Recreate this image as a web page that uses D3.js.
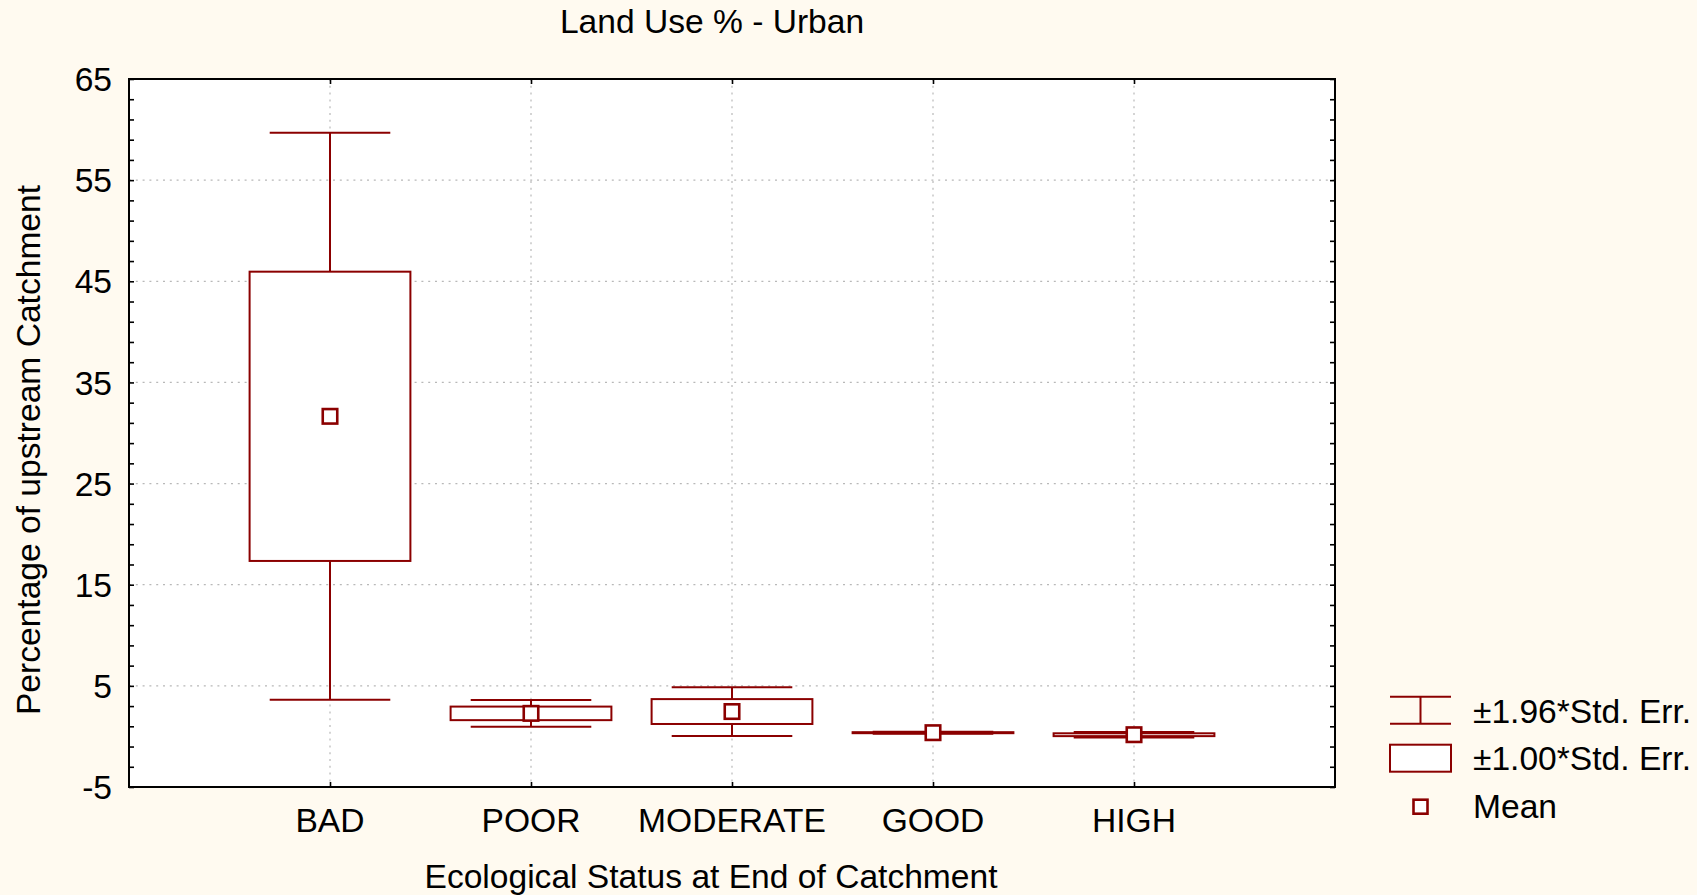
<!DOCTYPE html>
<html>
<head>
<meta charset="utf-8">
<script src="https://cdn.jsdelivr.net/npm/d3@7"></script>
<style>
  html, body { margin: 0; padding: 0; background: #fffaf0; }
  svg { display: block; }
  text { font-family: Arial, "Liberation Sans", sans-serif; fill: #000; }
</style>
</head>
<body>
<svg id="chart" width="1697" height="895"></svg>
<script>
// Ecological status classes along the x axis
const categories = ["BAD", "POOR", "MODERATE", "GOOD", "HIGH"];
// Mean urban land use (%) per class
const means = [31.65, 2.28, 2.46, 0.37, 0.17];
// Standard error of the mean per class
const stdErr = [14.3, 0.67, 1.23, 0.05, 0.14];
// Y axis labelled ticks
const yTicks = [-5, 5, 15, 25, 35, 45, 55, 65];
// Legend entries
const legendLabels = ["\u00b11.96*Std. Err.", "\u00b11.00*Std. Err.", "Mean"];

const svg = d3.select("#chart");
const W = 1697, H = 895;
const margin = { left: 129, right: W - 1335, top: 79, bottom: H - 787 };
const plotW = W - margin.left - margin.right;
const plotH = H - margin.top - margin.bottom;
const red = "#8b0000";
const fontSize = 33.6;

svg.append("rect").attr("width", W).attr("height", H).attr("fill", "#fffaf0");

const x = d3.scaleLinear().domain([0, categories.length + 1]).range([margin.left, margin.left + plotW]);
const y = d3.scaleLinear().domain([-5, 65]).range([margin.top + plotH, margin.top]);

const data = categories.map((c, i) => ({
  cat: c,
  pos: i + 1,
  mean: means[i],
  boxLo: means[i] - 1.00 * stdErr[i],
  boxHi: means[i] + 1.00 * stdErr[i],
  whLo: means[i] - 1.96 * stdErr[i],
  whHi: means[i] + 1.96 * stdErr[i]
}));

// plot area
svg.append("rect")
  .attr("x", margin.left).attr("y", margin.top)
  .attr("width", plotW).attr("height", plotH)
  .attr("fill", "#fff");

// dotted grid
const grid = svg.append("g")
  .attr("stroke", "#b8b8b8").attr("stroke-width", 1.2)
  .attr("stroke-dasharray", "2,4.8");
grid.selectAll("line.h").data(yTicks.filter(v => v > -5 && v < 65)).join("line")
  .attr("x1", margin.left).attr("x2", margin.left + plotW)
  .attr("y1", d => y(d)).attr("y2", d => y(d));
grid.selectAll("line.v").data(data).join("line")
  .attr("x1", d => x(d.pos)).attr("x2", d => x(d.pos))
  .attr("y1", margin.top).attr("y2", margin.top + plotH);

// axes with inward ticks
const minorTicks = d3.range(-5, 65.01, 2);
const axisLeft = d3.axisRight(y).tickValues(minorTicks).tickSize(5).tickFormat("");
const axisRight = d3.axisLeft(y).tickValues(minorTicks).tickSize(5).tickFormat("");
const axisBottom = d3.axisTop(x).tickValues(data.map(d => d.pos)).tickSize(5).tickFormat("");
const axisTop = d3.axisBottom(x).tickValues(data.map(d => d.pos)).tickSize(5).tickFormat("");

function styleAxis(g) {
  g.select(".domain").remove();
  g.selectAll(".tick line").attr("stroke", "#000").attr("stroke-width", 1.6);
}
svg.append("g").attr("transform", `translate(${margin.left},0)`).call(axisLeft).call(styleAxis);
svg.append("g").attr("transform", `translate(${margin.left + plotW},0)`).call(axisRight).call(styleAxis);
svg.append("g").attr("transform", `translate(0,${margin.top + plotH})`).call(axisBottom).call(styleAxis);
svg.append("g").attr("transform", `translate(0,${margin.top})`).call(axisTop).call(styleAxis);

// frame
svg.append("rect")
  .attr("x", margin.left).attr("y", margin.top)
  .attr("width", plotW).attr("height", plotH)
  .attr("fill", "none").attr("stroke", "#000").attr("stroke-width", 2);

// tick labels
svg.append("g").selectAll("text").data(yTicks).join("text")
  .attr("x", 112).attr("y", d => y(d))
  .attr("dy", "0.36em")
  .attr("text-anchor", "end")
  .attr("font-size", fontSize)
  .text(d => d);
svg.append("g").selectAll("text").data(data).join("text")
  .attr("x", d => x(d.pos)).attr("y", 832)
  .attr("text-anchor", "middle")
  .attr("font-size", fontSize)
  .text(d => d.cat);

// titles
svg.append("text").attr("x", 712).attr("y", 33)
  .attr("text-anchor", "middle").attr("font-size", fontSize)
  .text("Land Use % - Urban");
svg.append("text").attr("x", 711).attr("y", 888)
  .attr("text-anchor", "middle").attr("font-size", fontSize)
  .text("Ecological Status at End of Catchment");
svg.append("text")
  .attr("transform", "translate(40,450) rotate(-90)")
  .attr("text-anchor", "middle").attr("font-size", fontSize)
  .text("Percentage of upstream Catchment");

// box & whisker marks
const boxHalf = 0.4, capHalf = 0.3;
const marks = svg.append("g").attr("stroke", red).attr("fill", "none").attr("stroke-width", 2);
const grp = marks.selectAll("g").data(data).join("g");
grp.append("line")
  .attr("x1", d => x(d.pos)).attr("x2", d => x(d.pos))
  .attr("y1", d => y(d.whLo)).attr("y2", d => y(d.whHi));
grp.append("line")
  .attr("x1", d => x(d.pos - capHalf)).attr("x2", d => x(d.pos + capHalf))
  .attr("y1", d => y(d.whHi)).attr("y2", d => y(d.whHi));
grp.append("line")
  .attr("x1", d => x(d.pos - capHalf)).attr("x2", d => x(d.pos + capHalf))
  .attr("y1", d => y(d.whLo)).attr("y2", d => y(d.whLo));
grp.append("rect")
  .attr("x", d => x(d.pos - boxHalf))
  .attr("width", d => x(d.pos + boxHalf) - x(d.pos - boxHalf))
  .attr("y", d => y(d.boxHi))
  .attr("height", d => y(d.boxLo) - y(d.boxHi))
  .attr("fill", "#fff");
const ms = 14.5;
grp.append("rect")
  .attr("x", d => x(d.pos) - ms / 2).attr("y", d => y(d.mean) - ms / 2)
  .attr("width", ms).attr("height", ms)
  .attr("fill", "#fff").attr("stroke-width", 2.6);

// legend
const lg = svg.append("g");
const lx0 = 1390, lx1 = 1451, lcx = 1420.5;
const sym = lg.append("g").attr("stroke", red).attr("stroke-width", 2).attr("fill", "none");
sym.append("line").attr("x1", lx0).attr("x2", lx1).attr("y1", 696.7).attr("y2", 696.7);
sym.append("line").attr("x1", lx0).attr("x2", lx1).attr("y1", 723.7).attr("y2", 723.7);
sym.append("line").attr("x1", lcx).attr("x2", lcx).attr("y1", 696.7).attr("y2", 723.7);
sym.append("rect").attr("x", lx0).attr("y", 744.7).attr("width", lx1 - lx0).attr("height", 27)
  .attr("fill", "#fff");
sym.append("rect").attr("x", lcx - 7).attr("y", 806.7 - 7).attr("width", 14).attr("height", 14)
  .attr("fill", "#fff").attr("stroke-width", 2.6);
const legendY = [723, 770, 818];
lg.selectAll("text").data(legendLabels).join("text")
  .attr("x", 1473).attr("y", (d, i) => legendY[i])
  .attr("font-size", fontSize)
  .text(d => d);
</script>
</body>
</html>
